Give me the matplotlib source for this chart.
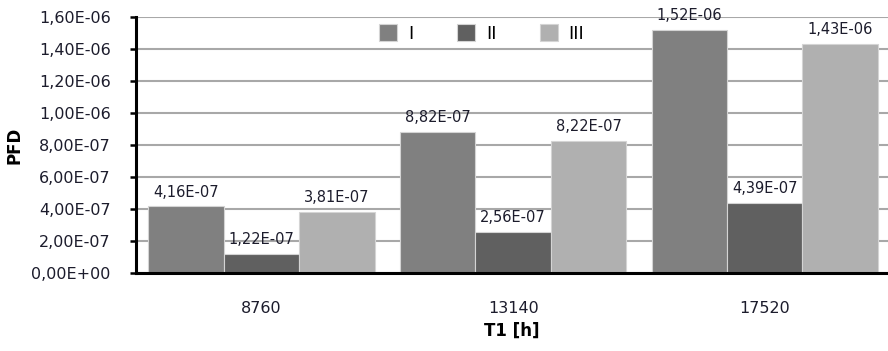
import numpy as np
import matplotlib.pyplot as plt
from matplotlib.ticker import FuncFormatter, MultipleLocator

# test interval T1 and PFD per configuration
intervals = ['8760', '13140', '17520']
series_names = ['I', 'II', 'III']
pfd_I = [4.16e-07, 8.82e-07, 1.52e-06]
pfd_II = [1.22e-07, 2.56e-07, 4.39e-07]
pfd_III = [3.81e-07, 8.22e-07, 1.43e-06]

colors = ['#808080', '#606060', '#b0b0b0']
text_col = '#1c1c2c'


def sci_comma(v, pos=None):
    return ('%.2E' % v).replace('.', ',')


fig = plt.figure(figsize=(8.88, 3.51), dpi=100)
ax = fig.add_axes([0.153, 0.222, 0.847, 0.730])

x = np.arange(len(intervals))
w = 0.30
for i, (vals, name) in enumerate(zip([pfd_I, pfd_II, pfd_III], series_names)):
    bars = ax.bar(x + (i - 1) * w, vals, width=w, color=colors[i],
                  edgecolor='#d4d4d4', linewidth=0.8, label=name, zorder=3)
    for b, v in zip(bars, vals):
        ax.annotate(sci_comma(v), (b.get_x() + b.get_width() / 2, v),
                    xytext=(0, 5), textcoords='offset points',
                    ha='center', va='bottom', fontsize=10.5, color=text_col,
                    annotation_clip=False, zorder=4)

ax.set_xlim(-0.5, 2.49)
ax.set_ylim(0, 1.6e-06)
ax.yaxis.set_major_locator(MultipleLocator(2e-07))
ax.yaxis.set_major_formatter(FuncFormatter(sci_comma))
ax.set_xticks(x)
ax.set_xticklabels(intervals)

ax.grid(axis='y', color='#a8a8a8', linewidth=1.5, zorder=0)
ax.set_axisbelow(True)
for s in ['top', 'right']:
    ax.spines[s].set_visible(False)
for s in ['left', 'bottom']:
    ax.spines[s].set_linewidth(2.2)
    ax.spines[s].set_color('black')
    ax.spines[s].set_zorder(5)

ax.tick_params(axis='y', direction='out', length=4, width=1.8,
               labelsize=11.5, labelcolor=text_col, pad=14)
ax.tick_params(axis='x', length=0, labelsize=11.5, labelcolor=text_col, pad=20)

ax.set_xlabel('T1 [h]', fontsize=12, fontweight='bold', labelpad=4)
ax.set_ylabel('PFD', fontsize=12, fontweight='bold', labelpad=6)

ax.legend(loc='center', bbox_to_anchor=(0.46, 0.935), ncol=3, frameon=False,
          fontsize=13, handlelength=1.0, handleheight=1.0,
          handletextpad=0.6, columnspacing=2.4)

fig.savefig('out.png', dpi=100)
